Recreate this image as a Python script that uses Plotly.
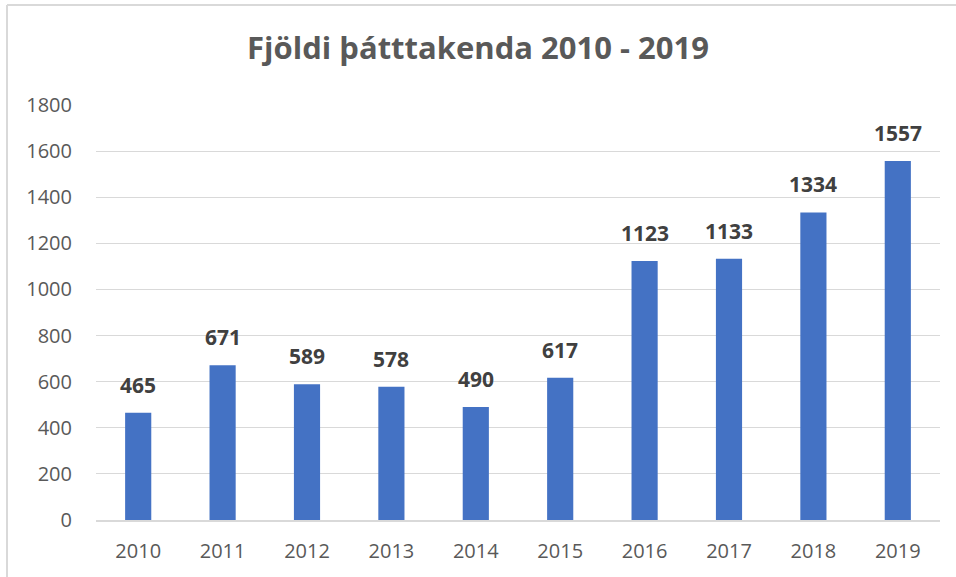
import plotly.graph_objects as go

years = ["2010", "2011", "2012", "2013", "2014", "2015", "2016", "2017", "2018", "2019"]
participants = [465, 671, 589, 578, 490, 617, 1123, 1133, 1334, 1557]
y_ticks = [0, 200, 400, 600, 800, 1000, 1200, 1400, 1600, 1800]

W, H = 956, 577
L, R, T, B = 96, 16, 105, 57
pw, ph = W - L - R, H - T - B

fig = go.Figure()
fig.add_trace(go.Bar(
    x=years, y=participants,
    marker=dict(color="#4472C4", line=dict(width=0)),
    hoverinfo="skip",
))

def px_x(p):
    return (p - L) / pw

def px_y(p):
    return (H - B - p) / ph

# category index positions for the value labels
annotations = [
    dict(x=i, y=v, xref="x", yref="y", text=f"<b>{v}</b>", showarrow=False,
         yanchor="bottom", xanchor="center", yshift=12,
         font=dict(size=21, color="#404040", family="Open Sans"))
    for i, v in enumerate(participants)
]

fig.update_layout(
    width=W, height=H,
    margin=dict(l=L, r=R, t=T, b=B, autoexpand=False),
    paper_bgcolor="white", plot_bgcolor="white",
    bargap=0.69,
    showlegend=False,
    title=dict(text="<b>Fjöldi þátttakenda 2010 - 2019</b>", x=0.5, xanchor="center",
               y=1 - 48 / H, yanchor="middle",
               font=dict(size=31, color="#595959", family="Open Sans")),
    font=dict(family="Open Sans", color="#595959"),
    xaxis=dict(type="category", range=[-0.5, len(years) - 0.5], showgrid=False,
               showline=True, linecolor="#D9D9D9", linewidth=1.5,
               ticks="", tickfont=dict(size=20, color="#595959"), ticklabelstandoff=12,
               automargin=False),
    yaxis=dict(range=[0, 1800], tickvals=y_ticks, showgrid=True, gridcolor="#D9D9D9",
               gridwidth=1, zeroline=False, showline=False, ticks="",
               tickfont=dict(size=20, color="#595959"), ticklabelstandoff=23,
               automargin=False),
    annotations=annotations,
    shapes=[
        dict(type="line", xref="paper", yref="paper", x0=px_x(7), x1=px_x(W + 20),
             y0=px_y(5), y1=px_y(5), line=dict(color="#D9D9D9", width=2)),
        dict(type="line", xref="paper", yref="paper", x0=px_x(7), x1=px_x(7),
             y0=px_y(5), y1=px_y(H + 20), line=dict(color="#D9D9D9", width=2)),
    ],
)

fig.write_html("out.html", config={"displayModeBar": False},
               post_script="document.body.style.margin='0';document.body.style.overflow='hidden';")
